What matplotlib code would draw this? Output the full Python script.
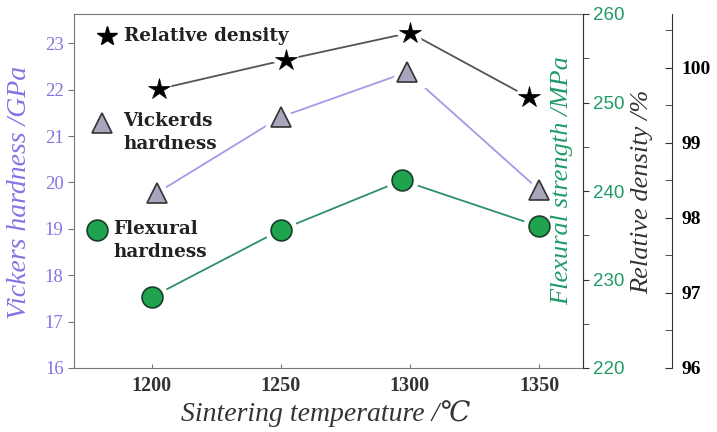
import matplotlib
matplotlib.use("Agg")
import matplotlib.pyplot as plt
from matplotlib.ticker import MultipleLocator

# Data
temps = [1200, 1250, 1300, 1350]
density_x = [1203, 1252, 1300, 1346]
relative_density = [99.72, 100.11, 100.47, 99.61]
vickers_x = [1202, 1250, 1299, 1350]
vickers_hardness = [19.77, 21.41, 22.38, 19.84]
flexural_x = [1200, 1250, 1297, 1350]
flexural_strength = [228.0, 235.6, 241.2, 236.0]

purple = "#8474e2"
purple_line = "#a39ae8"
green = "#1f9a66"
green_fill = "#1fa34f"
serif = ["Liberation Serif", "DejaVu Serif"]
bserif = ["DejaVu Serif"]

fig = plt.figure(figsize=(7.17, 4.32), dpi=100)
ax = fig.add_axes([74/717, 64/432, (583-74)/717, (368-14)/432])
ax2 = ax.twinx()
ax3 = ax.twinx()

ax.set_xlim(1170, 1367)
ax.set_ylim(16, 23.63)
ax2.set_ylim(220, 260)
ax3.set_ylim(96, 100.72)

frame = "#777777"
for s in ax.spines.values():
    s.set_color(frame)
for s in ax2.spines.values():
    s.set_visible(False)
ax2.spines["right"].set_visible(True)
ax2.spines["right"].set_color("#333333")
for s in ax3.spines.values():
    s.set_visible(False)
ax3.spines["right"].set_visible(True)
ax3.spines["right"].set_position(("axes", 1.175))
ax3.spines["right"].set_color("#333333")


def series(a, x, y, lc, marker, ms, mfc, mec, mew):
    a.plot(x, y, color=lc, lw=1.3, zorder=2)
    a.plot(x, y, ls="none", marker=marker, ms=ms, mfc="white", mec="white",
           mew=mew + 7, zorder=3)
    a.plot(x, y, ls="none", marker=marker, ms=ms, mfc=mfc, mec=mec, mew=mew, zorder=4)


series(ax3, density_x, relative_density, "#555555", "*", 16, "black", "black", 0.5)
series(ax, vickers_x, vickers_hardness, purple_line, "^", 14, "#a9a5bd", "#333333", 1.2)
series(ax2, flexural_x, flexural_strength, "#2f8f6c", "o", 15, green_fill, "#1a3d2a", 1.2)

# Ticks
ax.set_xticks(temps)
ax.set_xticklabels([str(t) for t in temps], fontfamily=serif, fontweight="bold",
                   fontsize=14.5, color="#333333")
ax.tick_params(axis="x", direction="in", length=3, colors=frame, labelcolor="#333333", pad=6)
ax.set_yticks(range(16, 24))
ax.tick_params(axis="y", direction="out", length=4, colors=frame, labelcolor=purple, labelsize=13.5)
for lab in ax.get_yticklabels():
    lab.set_fontfamily(serif)

ax2.set_yticks(range(220, 261, 10))
ax2.yaxis.set_minor_locator(MultipleLocator(5))
ax2.tick_params(axis="y", which="both", direction="out", length=4, colors="#333333",
                labelcolor=green, labelsize=13.5)
for lab in ax2.get_yticklabels():
    lab.set_fontfamily(["Liberation Sans", "DejaVu Sans"])

ax3.set_yticks(range(96, 101))
ax3.yaxis.set_minor_locator(MultipleLocator(0.5))
ax3.tick_params(axis="y", which="both", direction="in", length=5, colors="#333333",
                labelcolor="black", labelsize=14, pad=7)
for lab in ax3.get_yticklabels():
    lab.set_fontfamily(serif)
    lab.set_fontweight("bold")

# Axis labels
fig.text(326/717, 1 - 414/432, "Sintering temperature /℃", ha="center", va="center",
         fontfamily=serif, fontstyle="italic", fontsize=20, color="#333333")
fig.text(20/717, 1 - 192/432, "Vickers hardness /GPa", rotation=90, ha="center", va="center",
         fontfamily=serif, fontstyle="italic", fontsize=20, color=purple)
fig.text(562/717, 1 - 181/432, "Flexural strength /MPa", rotation=90, ha="center", va="center",
         fontfamily=serif, fontstyle="italic", fontsize=19, color=green)
fig.text(642/717, 1 - 192/432, "Relative density /%", rotation=90, ha="center", va="center",
         fontfamily=serif, fontstyle="italic", fontsize=19, color="#333333")

# In-plot legend
ax.plot([1182.8], [23.15], marker="*", ms=15, color="black")
ax.text(1189.3, 23.15, "Relative density", fontfamily=bserif, fontweight="bold",
        fontsize=13.2, va="center", ha="left", color="#222222")
ax.plot([1180.8], [21.28], marker="^", ms=14, mfc="#a9a5bd", mec="#333333", mew=1.2)
ax.text(1189, 21.52, "Vickerds\nhardness", fontfamily=bserif, fontweight="bold",
        fontsize=13.2, va="top", ha="left", color="#222222", linespacing=1.4)
ax.plot([1178.9], [18.97], marker="o", ms=15, mfc=green_fill, mec="#1a3d2a", mew=1.2)
ax.text(1185.1, 19.2, "Flexural\nhardness", fontfamily=bserif, fontweight="bold",
        fontsize=13.2, va="top", ha="left", color="#222222", linespacing=1.4)

fig.savefig("out.png", dpi=100)
